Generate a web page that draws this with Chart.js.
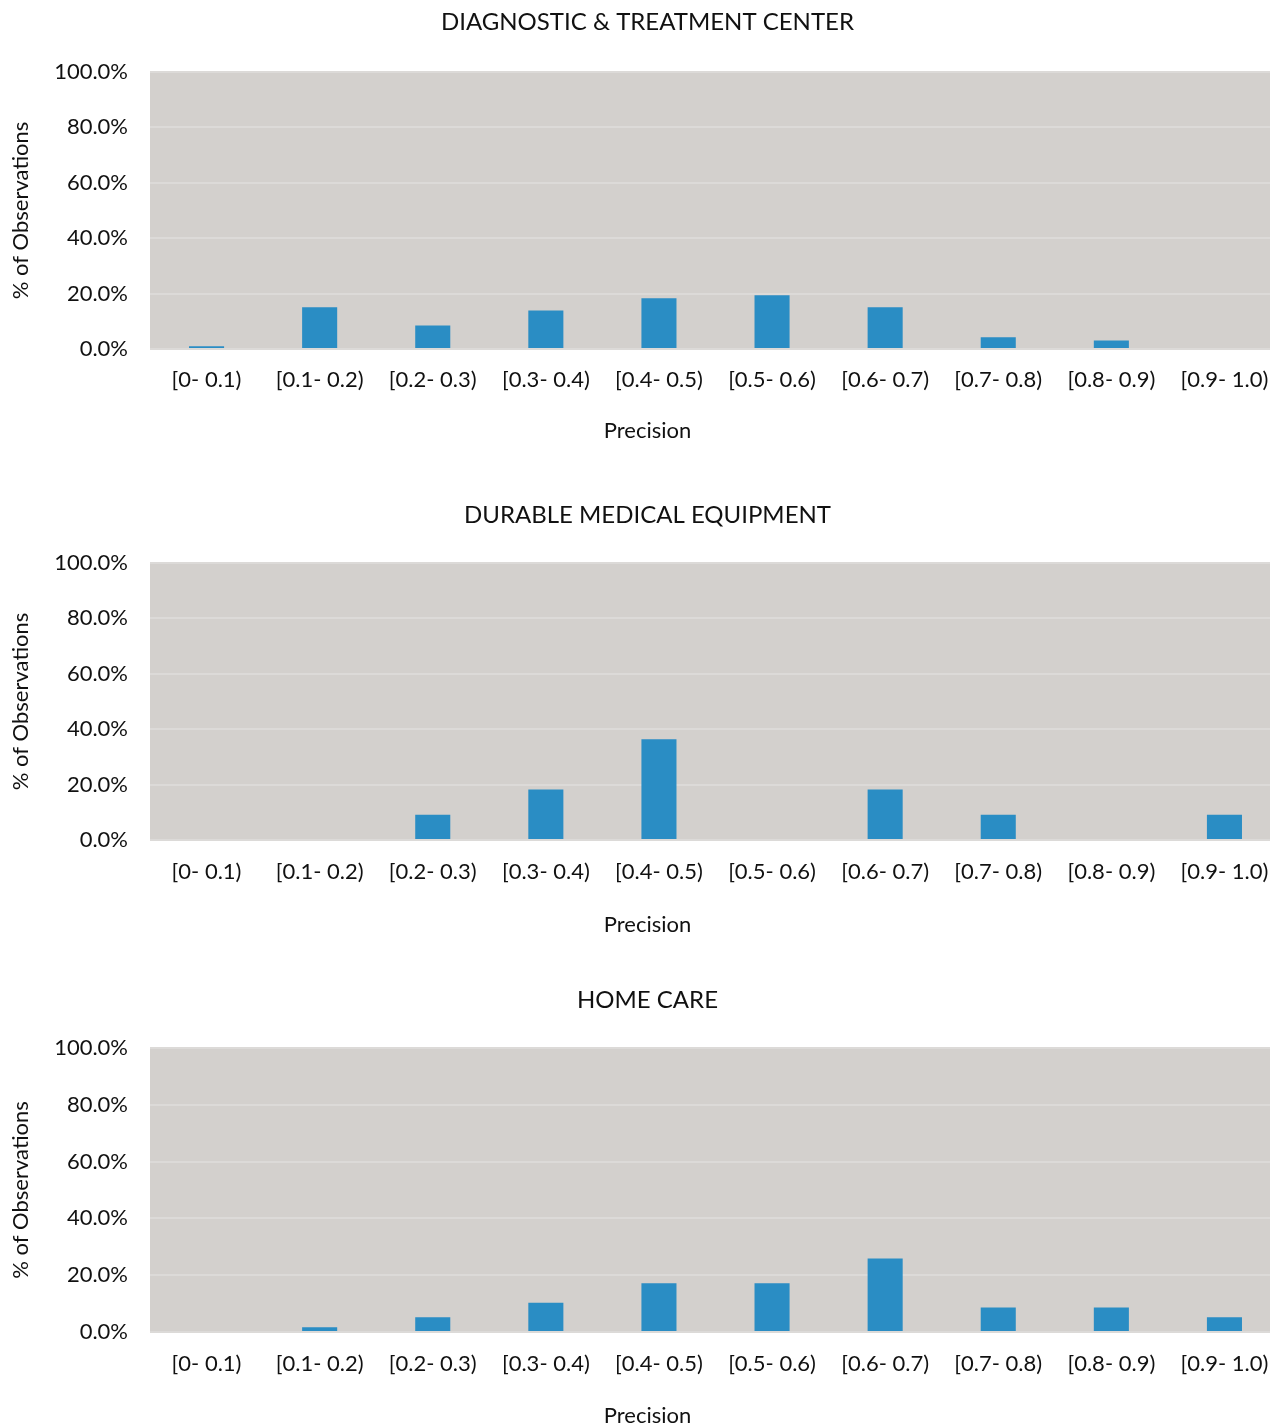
<!DOCTYPE html>
<html>
<head>
<meta charset="utf-8">
<title>Precision distribution</title>
<script src="https://cdn.jsdelivr.net/npm/chart.js@4/dist/chart.umd.min.js"></script>
<style>
    html, body { margin: 0; padding: 0; background: #fff; overflow: hidden; width: 1270px; height: 1427px; }
    .panel { position: absolute; left: 0; }
    canvas { display: block; }
</style>
</head>
<body>
<div class="panel" style="top:0px"><canvas id="c1" width="1295" height="460"></canvas></div>
<div class="panel" style="top:493px"><canvas id="c2" width="1295" height="460"></canvas></div>
<div class="panel" style="top:978px"><canvas id="c3" width="1295" height="449"></canvas></div>
<script>
// bins and values (% of observations)
const precisionBins = ['[0- 0.1)', '[0.1- 0.2)', '[0.2- 0.3)', '[0.3- 0.4)', '[0.4- 0.5)',
    '[0.5- 0.6)', '[0.6- 0.7)', '[0.7- 0.8)', '[0.8- 0.9)', '[0.9- 1.0)'];
const diagnosticPct = [1.0, 15.1, 8.5, 13.9, 18.3, 19.4, 15.1, 4.2, 3.1, 0];
const durablePct = [0, 0, 9.1, 18.2, 36.4, 0, 18.2, 9.1, 0, 9.1];
const homeCarePct = [0, 1.7, 5.2, 10.3, 17.2, 17.2, 25.9, 8.6, 8.6, 5.2];
const yTicks = [0, 20, 40, 60, 80, 100];
const titles = ['DIAGNOSTIC & TREATMENT CENTER', 'DURABLE MEDICAL EQUIPMENT', 'HOME CARE'];

const FONT = 'Lato, "Open Sans", sans-serif';
const TEXT = '#111111';
const TITLE_SIZE = 24;
const TICK_SIZE = 22;
const AXIS_SIZE = 22;
const SIDE_PAD = 14;     // equal side padding keeps titles centred on the full canvas
const PLOT_LEFT = 150;

// fills the plot area grey before grid and bars go on top
const plotBackground = {
    id: 'plotBackground',
    beforeDraw(chart) {
        const { ctx, chartArea: a } = chart;
        ctx.save();
        ctx.fillStyle = '#d3d0cd';
        ctx.fillRect(a.left, a.top, a.right - a.left, a.bottom - a.top);
        ctx.restore();
    }
};

function makeChart(id, title, values, box) {
    const titleLine = TITLE_SIZE * 1.2;
    const tickLine = TICK_SIZE * 1.2;
    const axisLine = AXIS_SIZE * 1.2;
    const tickPad = box.tickY - tickLine / 2 - box.plotBottom;
    const xAxisBottom = box.plotBottom + tickPad + tickLine;

    return new Chart(document.getElementById(id), {
        type: 'bar',
        data: {
            labels: precisionBins,
            datasets: [{
                data: values,
                backgroundColor: '#2a8dc4',
                borderWidth: 0,
                categoryPercentage: 1,
                barPercentage: 0.31
            }]
        },
        options: {
            responsive: false,
            animation: false,
            layout: { padding: { left: SIDE_PAD, right: SIDE_PAD, top: 0, bottom: 0 } },
            plugins: {
                legend: { display: false },
                tooltip: { enabled: false },
                title: {
                    display: true,
                    text: title,
                    color: TEXT,
                    font: { family: FONT, size: TITLE_SIZE, weight: 'normal' },
                    padding: {
                        top: box.titleY - titleLine / 2,
                        bottom: box.plotTop - box.titleY - titleLine / 2
                    }
                },
                subtitle: {
                    display: true,
                    position: 'bottom',
                    text: 'Precision',
                    color: TEXT,
                    font: { family: FONT, size: AXIS_SIZE, weight: 'normal' },
                    padding: {
                        top: box.xTitleY - axisLine / 2 - xAxisBottom,
                        bottom: box.height - box.xTitleY - axisLine / 2
                    }
                }
            },
            scales: {
                x: {
                    afterFit(scale) {
                        scale.height = tickPad + tickLine;
                    },
                    grid: { display: false, drawTicks: false },
                    border: { display: false },
                    ticks: {
                        color: TEXT,
                        padding: tickPad,
                        maxRotation: 0,
                        autoSkip: false,
                        font: { family: FONT, size: TICK_SIZE }
                    }
                },
                y: {
                    min: 0,
                    max: 100,
                    afterBuildTicks(scale) {
                        scale.ticks = yTicks.map(v => ({ value: v }));
                    },
                    afterFit(scale) {
                        scale.width = PLOT_LEFT - SIDE_PAD;
                    },
                    grid: { color: '#dcdad8', lineWidth: 2, drawTicks: false },
                    border: { display: false },
                    ticks: {
                        color: TEXT,
                        padding: 22,
                        font: { family: FONT, size: TICK_SIZE },
                        callback: v => v.toFixed(1) + '%'
                    },
                    title: {
                        display: true,
                        text: '% of Observations',
                        color: TEXT,
                        font: { family: FONT, size: AXIS_SIZE, weight: 'normal' },
                        padding: { top: 20.5 - SIDE_PAD - axisLine / 2, bottom: 0 }
                    }
                }
            }
        },
        plugins: [plotBackground]
    });
}

makeChart('c1', titles[0], diagnosticPct,
    { titleY: 22, plotTop: 72, plotBottom: 349, tickY: 380, xTitleY: 431, height: 460 });
makeChart('c2', titles[1], durablePct,
    { titleY: 22, plotTop: 70, plotBottom: 347, tickY: 379, xTitleY: 432, height: 460 });
makeChart('c3', titles[2], homeCarePct,
    { titleY: 22, plotTop: 70, plotBottom: 354, tickY: 386, xTitleY: 438, height: 449 });
</script>
</body>
</html>
